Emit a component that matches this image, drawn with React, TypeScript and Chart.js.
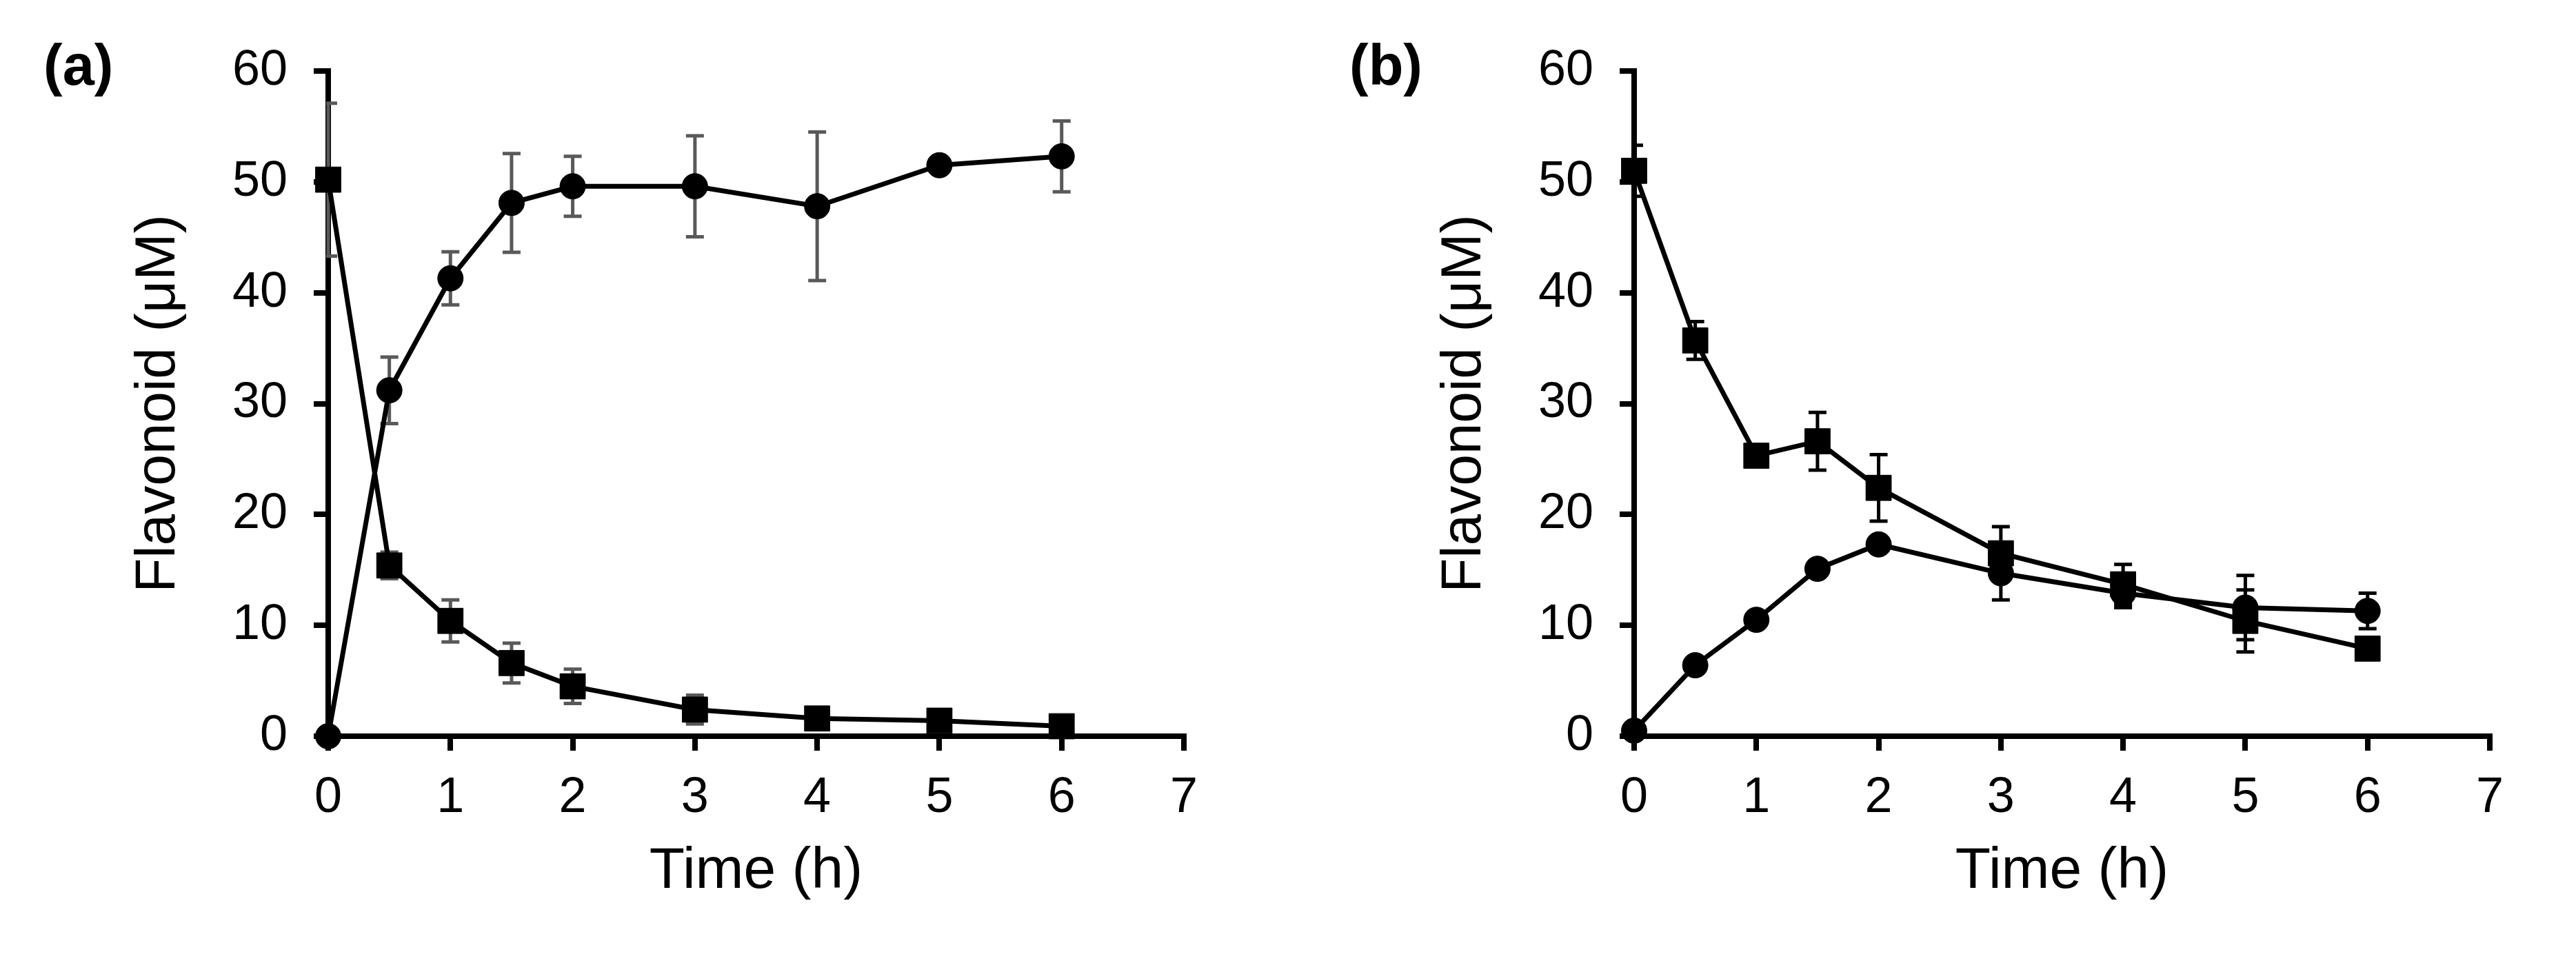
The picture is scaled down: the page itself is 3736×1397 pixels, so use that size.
import { useEffect, useRef } from "react";
import { Chart, registerables } from "chart.js";

Chart.register(...registerables);

// Sampling times (h)
const times = [0, 0.5, 1, 1.5, 2, 3, 4, 5, 6];

// Axis ticks
const xTickValues = [0, 1, 2, 3, 4, 5, 6, 7];
const yTickValues = [0, 10, 20, 30, 40, 50, 60];

// Panel (a): substrate (squares) and product (circles), mean and SD in µM
const aSubstrate = [50.2, 15.4, 10.4, 6.6, 4.5, 2.4, 1.6, 1.4, 0.9];
const aSubstrateSd = [6.9, 1.2, 1.9, 1.8, 1.55, 1.3, 0, 0, 0];
const aProduct = [0, 31.2, 41.3, 48.1, 49.6, 49.6, 47.8, 51.5, 52.3];
const aProductSd = [0, 3.0, 2.4, 4.45, 2.7, 4.55, 6.7, 0, 3.2];

// Panel (b)
const bSubstrate = [51.0, 35.7, 25.3, 26.6, 22.4, 16.5, 13.7, 10.4, 7.9];
const bSubstrateSd = [2.3, 1.7, 0, 2.6, 3.0, 2.4, 1.8, 2.8, 0];
const bProduct = [0.5, 6.4, 10.5, 15.1, 17.3, 14.7, 12.9, 11.6, 11.3];
const bProductSd = [0, 0, 0, 0, 0, 2.4, 1.3, 2.9, 1.6];

const FONT = "'Liberation Sans', Arial, Helvetica, sans-serif";
const CANVAS_W = 1842;
const CANVAS_H = 1397;

// Vertical error bars with caps, drawn under the markers
const errorBarPlugin = {
  id: "errorBars",
  beforeDatasetsDraw(chart: any, _args: any, opts: any) {
    const { ctx, chartArea } = chart;
    const xs = chart.scales.x;
    const ys = chart.scales.y;
    const sds: number[][] = opts.sd || [];
    ctx.save();
    ctx.beginPath();
    ctx.rect(chartArea.left - 3, 0, chart.width, chart.height);
    ctx.clip();
    ctx.strokeStyle = opts.color;
    ctx.lineWidth = 5;
    ctx.lineCap = "butt";
    chart.data.datasets.forEach((ds: any, di: number) => {
      const sd = sds[di] || [];
      ds.data.forEach((p: any, i: number) => {
        const e = sd[i];
        if (!e) return;
        const x = xs.getPixelForValue(p.x);
        const yt = ys.getPixelForValue(p.y + e);
        const yb = ys.getPixelForValue(p.y - e);
        const cap = 13;
        ctx.beginPath();
        ctx.moveTo(x, yt);
        ctx.lineTo(x, yb);
        ctx.moveTo(x - cap, yt);
        ctx.lineTo(x + cap, yt);
        ctx.moveTo(x - cap, yb);
        ctx.lineTo(x + cap, yb);
        ctx.stroke();
      });
    });
    ctx.restore();
  },
};

// Bold panel letter in the top-left corner
const panelLabelPlugin = {
  id: "panelLabel",
  afterDraw(chart: any, _args: any, opts: any) {
    const { ctx, chartArea } = chart;
    ctx.save();
    ctx.font = `bold 83px ${FONT}`;
    ctx.fillStyle = "#000";
    ctx.textBaseline = "alphabetic";
    ctx.textAlign = "left";
    ctx.fillText(opts.text, chartArea.left - 413, 123);
    ctx.restore();
  },
};

type PanelProps = {
  label: string;
  substrate: number[];
  substrateSd: number[];
  product: number[];
  productSd: number[];
  errorColor: string;
  left: number;
};

function Panel({ label, substrate, substrateSd, product, productSd, errorColor, left }: PanelProps) {
  const ref = useRef<HTMLCanvasElement | null>(null);

  useEffect(() => {
    if (!ref.current) return;
    const common = {
      borderColor: "#000",
      backgroundColor: "#000",
      borderWidth: 7,
      pointBackgroundColor: "#000",
      pointBorderColor: "#000",
      pointBorderWidth: 1,
      tension: 0,
      clip: false as const,
    };
    const chart = new Chart(ref.current, {
      type: "line",
      data: {
        datasets: [
          {
            ...common,
            label: "substrate",
            data: times.map((t, i) => ({ x: t, y: substrate[i] })),
            pointStyle: "rect",
            pointRadius: 26,
          },
          {
            ...common,
            label: "product",
            data: times.map((t, i) => ({ x: t, y: product[i] })),
            pointStyle: "circle",
            pointRadius: 18.5,
          },
        ],
      },
      options: {
        responsive: false,
        animation: false,
        devicePixelRatio: 1,
        layout: { padding: { left: 0, top: 103, right: 125, bottom: 0 } },
        plugins: {
          legend: { display: false },
          tooltip: { enabled: false },
          errorBars: { color: errorColor, sd: [substrateSd, productSd] },
          panelLabel: { text: label },
        } as any,
        scales: {
          x: {
            type: "linear",
            min: 0,
            max: 7,
            afterFit: (s: any) => {
              s.height = 329;
            },
            afterBuildTicks: (s: any) => {
              s.ticks = xTickValues.map((v) => ({ value: v }));
            },
            ticks: {
              color: "#000",
              font: { family: FONT, size: 72 },
              padding: 26,
              maxRotation: 0,
              autoSkip: false,
              callback: (v: any) => String(v),
            },
            grid: {
              drawOnChartArea: false,
              drawTicks: true,
              tickLength: 21,
              tickWidth: 8,
              tickColor: "#000",
              lineWidth: 8,
              color: "#000",
            },
            border: { display: true, color: "#000", width: 8 },
            title: {
              display: true,
              text: "Time (h)",
              color: "#000",
              font: { family: FONT, size: 84 },
              padding: { top: 0, bottom: 82 },
            },
          },
          y: {
            type: "linear",
            min: 0,
            max: 60,
            afterFit: (s: any) => {
              s.width = 476;
            },
            afterBuildTicks: (s: any) => {
              s.ticks = yTickValues.map((v) => ({ value: v }));
            },
            ticks: {
              color: "#000",
              font: { family: FONT, size: 72 },
              padding: 38,
              autoSkip: false,
              callback: (v: any) => String(v),
            },
            grid: {
              drawOnChartArea: false,
              drawTicks: true,
              tickLength: 21,
              tickWidth: 8,
              tickColor: "#000",
              lineWidth: 8,
              color: "#000",
            },
            border: { display: true, color: "#000", width: 8 },
            title: {
              display: true,
              text: "Flavonoid (μM)",
              color: "#000",
              font: { family: FONT, size: 82 },
              padding: { top: 181, bottom: 0 },
            },
          },
        },
      },
      plugins: [errorBarPlugin, panelLabelPlugin],
    } as any);
    return () => chart.destroy();
  }, [label, substrate, substrateSd, product, productSd, errorColor]);

  return (
    <canvas
      ref={ref}
      width={CANVAS_W}
      height={CANVAS_H}
      style={{ position: "absolute", left, top: 0, width: CANVAS_W, height: CANVAS_H }}
    />
  );
}

export default function App() {
  return (
    <div
      style={{
        position: "absolute",
        left: 0,
        top: 0,
        width: 3736,
        height: 1397,
        background: "#fff",
        overflow: "hidden",
      }}
    >
      <Panel
        label="(a)"
        substrate={aSubstrate}
        substrateSd={aSubstrateSd}
        product={aProduct}
        productSd={aProductSd}
        errorColor="#595959"
        left={0}
      />
      <Panel
        label="(b)"
        substrate={bSubstrate}
        substrateSd={bSubstrateSd}
        product={bProduct}
        productSd={bProductSd}
        errorColor="#000"
        left={1894}
      />
    </div>
  );
}
